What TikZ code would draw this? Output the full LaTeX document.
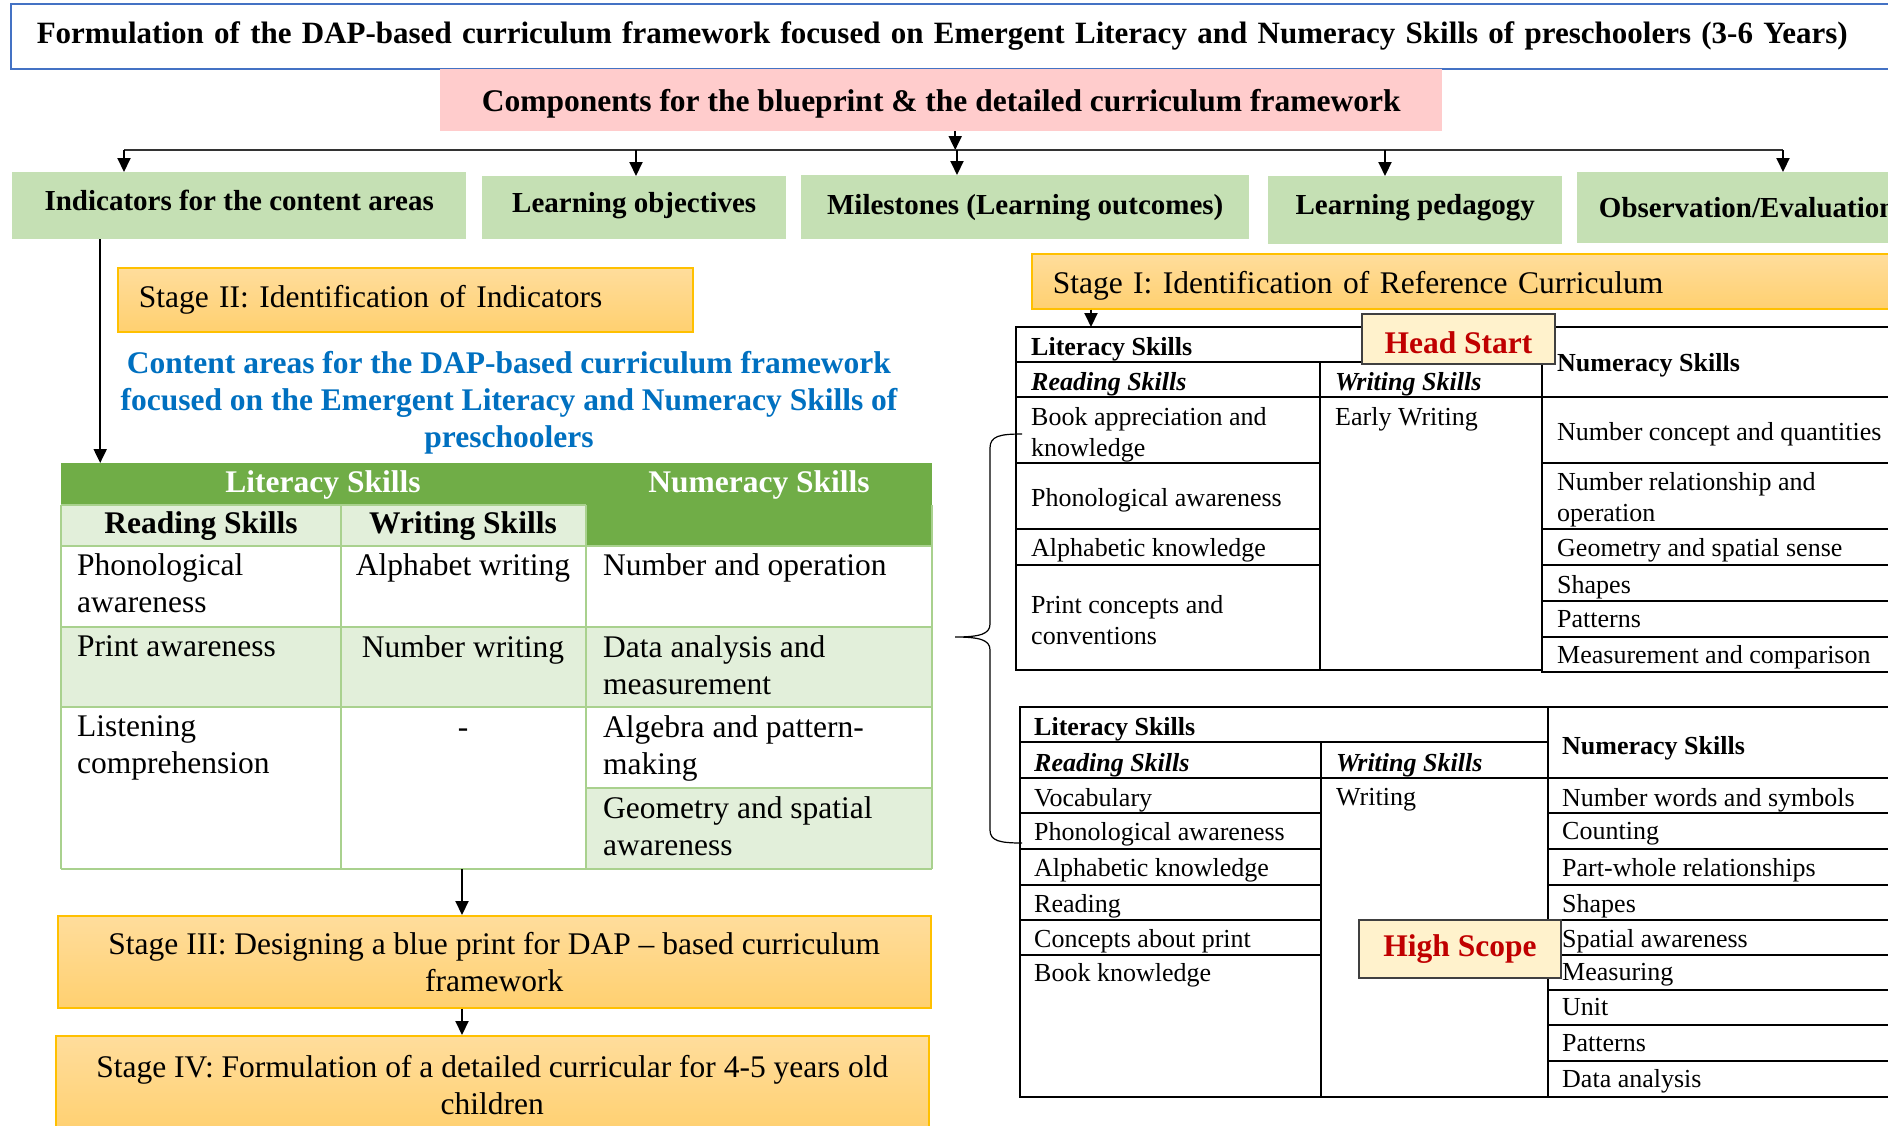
\documentclass[tikz,border=0pt]{standalone}
\usepackage{fontspec}
\setmainfont{Liberation Serif}
\usetikzlibrary{arrows.meta,calc}

\definecolor{boxgreen}{HTML}{C5E0B4}
\definecolor{headgreen}{HTML}{70AD47}
\definecolor{palegreen}{HTML}{E2EFDA}
\definecolor{gridgreen}{HTML}{A9D18E}
\definecolor{compink}{HTML}{FFCCCC}
\definecolor{stageedge}{HTML}{FFC000}
\definecolor{stagetop}{HTML}{FFDD9C}
\definecolor{stagebot}{HTML}{FFD070}
\definecolor{titleblue}{HTML}{4472C4}
\definecolor{headblue}{HTML}{0070C0}
\definecolor{tagred}{HTML}{C00000}
\definecolor{tagfill}{HTML}{FFF2CC}

\def\bigtxt{\fontsize{31.5}{37}\selectfont}
\def\boxtxt{\fontsize{29}{34}\selectfont}
\def\tabtxt{\fontsize{26}{31}\selectfont}

\tikzset{
  arr/.style={-{Triangle[width=13pt,length=14pt]}, line width=2pt},
  compbox/.style={fill=boxgreen, font=\boxtxt\bfseries, anchor=north west, inner sep=0pt},
  stagebox/.style={draw=stageedge, line width=1.5pt, top color=stagetop, bottom color=stagebot, font=\bigtxt, anchor=north west},
  tag/.style={draw=black!75, line width=2pt, fill=tagfill, font=\bigtxt\bfseries, text=tagred, anchor=north west, inner sep=0pt},
  cell/.style={font=\bigtxt, align=left, anchor=north west, inner sep=0pt},
  rcell/.style={font=\tabtxt, align=left, anchor=north west, inner sep=0pt},
  gline/.style={draw=gridgreen, line width=2pt},
  rline/.style={draw=black, line width=2.5pt},
  vline/.style={draw=black, line width=2pt}
}

\begin{document}
\begin{tikzpicture}[x=1pt,y=-1pt]
	\useasboundingbox (0,0) rectangle (1888,1125);
	\clip (0,0) rectangle (1888,1125);

	% heading box across the top
	\node[draw=titleblue, line width=1.5pt, fill=white, font=\fontsize{31}{37}\selectfont\bfseries, anchor=north west, minimum height=65pt, text width=1880pt, inner xsep=26pt, align=left] (title) at (10,3) {Formulation of the DAP-based curriculum framework focused on Emergent Literacy and Numeracy Skills of preschoolers (3-6 Years)};

	% the pink box and the five components hanging under it
	\node[fill=compink, font=\bigtxt\bfseries, anchor=north west, minimum width=1002pt, minimum height=62pt, inner sep=0pt, text height=29pt] (comp) at (440,69) {Components for the blueprint \& the detailed curriculum framework};
	\node[compbox, minimum width=454pt, minimum height=67pt, text depth=10pt] (ind) at (12,172) {Indicators for the content areas};
	\node[compbox, minimum width=304pt, minimum height=63pt, text depth=10pt] (lobj) at (482,176) {Learning objectives};
	\node[compbox, minimum width=448pt, minimum height=64pt] (miles) at (801,175) {Milestones (Learning outcomes)};
	\node[compbox, minimum width=294pt, minimum height=68pt, text depth=12pt] (ped) at (1268,176) {Learning pedagogy};
	\node[compbox, minimum width=340pt, minimum height=71pt] (obs) at (1577,172) {Observation/Evaluation};

	% the bus line and its drop arrows
	\coordinate (b1) at (124,150);
	\coordinate (b2) at (636,150);
	\coordinate (b3) at (957,150);
	\coordinate (b4) at (1385,150);
	\coordinate (b5) at (1783,150);
	\draw[arr] ([xshift=14pt]comp.south) -- ([xshift=14pt]comp.south |- b3);
	\draw[line width=2.5pt, black!80] (b1) -- (b5);
	\foreach \b/\n in {b1/ind,b2/lobj,b3/miles,b4/ped,b5/obs}
		\draw[arr] (\b) -- (\b |- \n.north);

	% Stage II and the content areas table on the left
	\node[stagebox, minimum height=64pt, text width=533pt, inner xsep=21pt, align=left] (s2) at (117,267) {Stage II: Identification of Indicators};
	\node[font=\bigtxt\bfseries, text=headblue, align=center, inner sep=0pt] (areas) at (509,403) {Content areas for the DAP-based curriculum framework\\focused on the Emergent Literacy and Numeracy Skills of\\preschoolers};

	% table fills first, then the light green rules
	\fill[headgreen] (61,463) rectangle (932,505);
	\fill[headgreen] (586,505) rectangle (932,546);
	\fill[palegreen] (61,505) rectangle (586,546);
	\fill[palegreen] (61,627) rectangle (932,707);
	\fill[palegreen] (586,788) rectangle (932,869);
	\draw[gline] (61,505) -- (586,505);
	\foreach \y in {546,627,707,869}
		\draw[gline] (61,\y) -- (932,\y);
	\draw[gline] (586,788) -- (932,788);
	\foreach \x in {61,341,586,932}
		\draw[gline] (\x,505) -- (\x,869);

	\node[font=\bigtxt\bfseries, text=white] (lit) at (323,485) {Literacy Skills};
	\node[font=\bigtxt\bfseries, text=white] (num) at (759,485) {Numeracy Skills};
	\node[font=\bigtxt\bfseries] (rd) at (201,526) {Reading Skills};
	\node[font=\bigtxt\bfseries] (wr) at (463,526) {Writing Skills};
	\node[cell] (c11) at (77,553) {Phonological\\awareness};
	\node[cell, anchor=north] (c12) at (463,553) {Alphabet writing};
	\node[cell] (c13) at (603,553) {Number and operation};
	\node[cell] (c21) at (77,635) {Print awareness};
	\node[cell, anchor=north] (c22) at (463,635) {Number writing};
	\node[cell] (c23) at (603,635) {Data analysis and\\measurement};
	\node[cell] (c31) at (77,715) {Listening\\comprehension};
	\node[cell, anchor=base] (c32) at (463,737) {-};
	\node[cell] (c33) at (603,715) {Algebra and pattern-\\making};
	\node[cell] (c43) at (603,796) {Geometry and spatial\\awareness};

	\coordinate (lt) at (61,463);
	\coordinate (indout) at ($(ind.south)+(-139,0)$);
	\draw[arr] (indout) -- (indout |- lt);

	% Stage III and Stage IV under the table
	\node[stagebox, minimum width=873pt, minimum height=92pt, align=center] (s3) at (57,915) {Stage III: Designing a blue print for DAP \textendash{} based curriculum\\framework};
	\node[stagebox, minimum width=873pt, minimum height=98pt, align=center] (s4) at (55,1035) {Stage IV: Formulation of a detailed curricular for 4-5 years old\\children};
	\coordinate (lb) at (462,869);
	\draw[arr] (lb) -- (lb |- s3.north);
	\draw[arr] (lb |- s3.south) -- (lb |- s4.north);

	% Stage I and the two reference curricula on the right
	\node[stagebox, minimum height=55pt, text width=860pt, inner xsep=21pt, align=left, text height=31pt] (s1) at (1031,253) {Stage I: Identification of Reference Curriculum};
	\coordinate (hs) at (1016,327);
	\coordinate (hsin) at ($(hs)+(75,0)$);
	\draw[arr] (hsin |- s1.south) -- (hsin);

	% Head Start table
	\draw[rline] (1016,327) -- (1888,327);
	\draw[rline] (1016,362) -- (1542,362);
	\draw[rline] (1016,397) -- (1888,397);
	\foreach \y in {463,529,565}
		\draw[rline] (1016,\y) -- (1320,\y);
	\foreach \y in {463,529,565,601,637}
		\draw[rline] (1542,\y) -- (1888,\y);
	\draw[rline] (1016,670) -- (1542,670);
	\draw[rline] (1542,672) -- (1888,672);
	\draw[vline] (1016,326) -- (1016,671);
	\draw[vline] (1320,362) -- (1320,671);
	\draw[vline] (1542,327) -- (1542,673);

	\node[rcell, font=\tabtxt\bfseries] (hlit) at (1031,337) {Literacy Skills};
	\node[rcell, font=\tabtxt\bfseries\itshape] (hrd) at (1031,372) {Reading Skills};
	\node[rcell, font=\tabtxt\bfseries\itshape] (hwr) at (1335,372) {Writing Skills};
	\node[rcell, font=\tabtxt\bfseries] (hnum) at (1557,353) {Numeracy Skills};
	\node[rcell] (hr1) at (1031,407) {Book appreciation and\\knowledge};
	\node[rcell] (hr2) at (1031,488) {Phonological awareness};
	\node[rcell] (hr3) at (1031,538) {Alphabetic knowledge};
	\node[rcell] (hr4) at (1031,595) {Print concepts and\\conventions};
	\node[rcell] (hw1) at (1335,407) {Early Writing};
	\node[rcell] (hn1) at (1557,422) {Number concept and quantities};
	\node[rcell] (hn2) at (1557,472) {Number relationship and\\operation};
	\node[rcell] (hn3) at (1557,538) {Geometry and spatial sense};
	\node[rcell] (hn4) at (1557,575) {Shapes};
	\node[rcell] (hn5) at (1557,610) {Patterns};
	\node[rcell] (hn6) at (1557,645) {Measurement and comparison};

	% High Scope table
	\draw[rline] (1020,707) -- (1888,707);
	\draw[rline] (1020,742) -- (1548,742);
	\draw[rline] (1020,778) -- (1888,778);
	\foreach \y in {813,849,885,920,955}
		\draw[rline] (1020,\y) -- (1321,\y);
	\foreach \y in {813,849,885,920,955,990,1025,1061}
		\draw[rline] (1548,\y) -- (1888,\y);
	\draw[rline] (1020,1097) -- (1888,1097);
	\draw[vline] (1020,706) -- (1020,1098);
	\draw[vline] (1321,742) -- (1321,1097);
	\draw[vline] (1548,707) -- (1548,1097);

	\node[rcell, font=\tabtxt\bfseries] (slit) at (1034,717) {Literacy Skills};
	\node[rcell, font=\tabtxt\bfseries\itshape] (srd) at (1034,753) {Reading Skills};
	\node[rcell, font=\tabtxt\bfseries\itshape] (swr) at (1336,753) {Writing Skills};
	\node[rcell, font=\tabtxt\bfseries] (snum) at (1562,736) {Numeracy Skills};
	\node[rcell] (sw1) at (1336,788) {Writing};
	\foreach \t/\y [count=\i] in {Vocabulary/788, Phonological awareness/822, Alphabetic knowledge/858, Reading/894, Concepts about print/929, Book knowledge/963}
		\node[rcell] (sr\i) at (1034,\y) {\t};
	\foreach \t/\y [count=\i] in {Number words and symbols/788, Counting/822, Part-whole relationships/858, Shapes/894, Spatial awareness/929, Measuring/963, Unit/998, Patterns/1034, Data analysis/1069}
		\node[rcell] (sn\i) at (1562,\y) {\t};

	% the brace linking both curricula
	\draw[line width=1.2pt] (1022,434) .. controls (1000,434) and (990,436) .. (990,448) -- (990,624) .. controls (990,634) and (980,637) .. (955,637) .. controls (980,637) and (990,640) .. (990,650) -- (990,830) .. controls (990,841) and (1000,843) .. (1022,843);

	% curriculum name tags laid over the tables
	\node[tag, minimum width=193pt, minimum height=50pt, text height=29pt, text depth=0pt] (headstart) at (1361,313) {Head Start};
	\node[tag, minimum width=202pt, minimum height=58pt] (highscope) at (1358,919) {High Scope};
\end{tikzpicture}
\end{document}
